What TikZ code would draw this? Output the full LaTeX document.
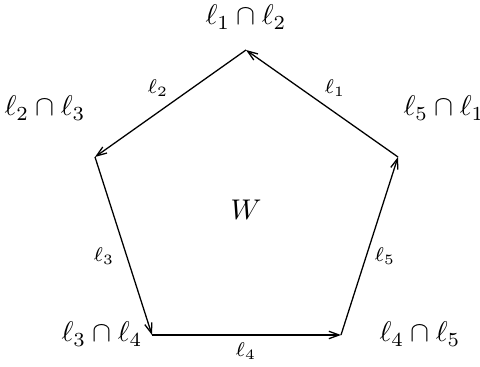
\documentclass[tikz,border=0pt]{standalone}
\usetikzlibrary{arrows.meta}
\begin{document}
\begin{tikzpicture}[x=0.3509pt,y=-0.3509pt,
  edge/.style={-{Straight Barb[length=3.6pt,width=2.6pt]},line width=0.45pt},
  elabel/.style={inner sep=0pt,font=\scriptsize},
  vlabel/.style={inner sep=0pt}]
\useasboundingbox (0,0) rectangle (480,367);
\coordinate (T) at (246,50);
\coordinate (R) at (398,157);
\coordinate (BR) at (341,335);
\coordinate (BL) at (152,335);
\coordinate (L) at (95,157);
\draw[edge] (R) -- (T);
\draw[edge] (T) -- (L);
\draw[edge] (L) -- (BL);
\draw[edge] (BL) -- (BR);
\draw[edge] (BR) -- (R);
\node[vlabel] (t12) at (246,17) {$\ell_1\cap\ell_2$};
\node[vlabel] (t23) at (45,108) {$\ell_2\cap\ell_3$};
\node[vlabel] (t51) at (444,108) {$\ell_5\cap\ell_1$};
\node[vlabel] (t34) at (102,334) {$\ell_3\cap\ell_4$};
\node[vlabel] (t45) at (420,334) {$\ell_4\cap\ell_5$};
\node[elabel] (e1) at (335,88) {$\ell_1$};
\node[elabel] (e2) at (158,88) {$\ell_2$};
\node[elabel] (e3) at (104,256) {$\ell_3$};
\node[elabel] (e4) at (246,351) {$\ell_4$};
\node[elabel] (e5) at (385,256) {$\ell_5$};
\node[vlabel] (w) at (246,210) {$W$};
\end{tikzpicture}
\end{document}
